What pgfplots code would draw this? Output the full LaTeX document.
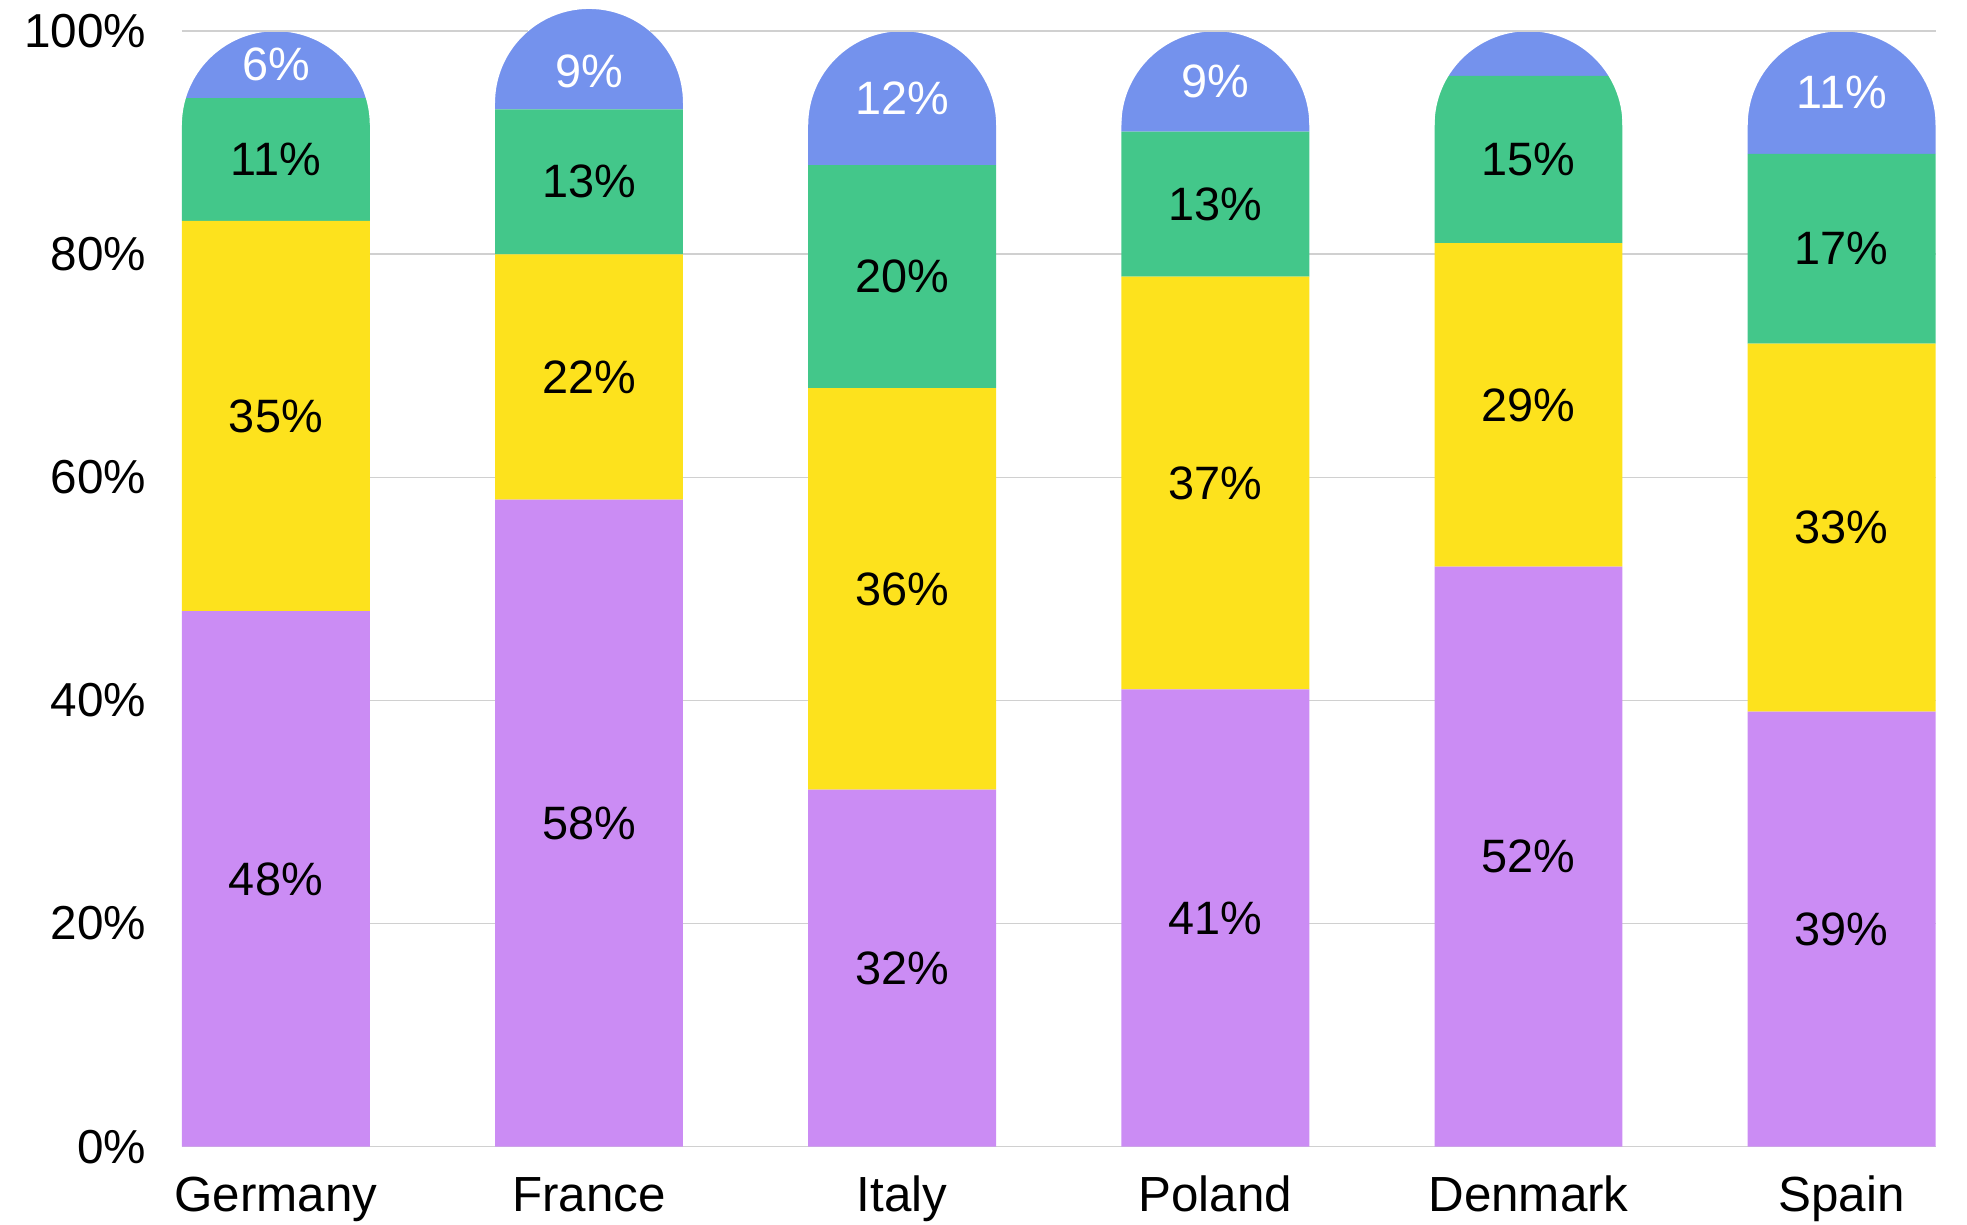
\documentclass[border=0pt]{standalone}
\usepackage{pgfplots}
\pgfplotsset{compat=1.18}
\usepackage{pgfplotstable}
\usepackage{fontspec}
\setmainfont{Liberation Sans}
\definecolor{cpurple}{HTML}{CB8CF4}
\definecolor{cyellow}{HTML}{FDE21D}
\definecolor{cgreen}{HTML}{43C78A}
\definecolor{cblue}{HTML}{7492ED}
\definecolor{cgrid}{HTML}{D0D0D0}

\pgfplotstableread{
x purple yellow green blue bsh bop
0 48 35 11 6 0 1
1 58 22 13 9 -1.1 1
2 32 36 20 12 0 1
3 41 37 13 9 0 1
4 52 29 15 4 0 0
5 39 33 17 11 0 1
}\data

\newcommand\R{22.47pt}
\newcommand\capmask[1]{%
  \fill[white] ([xshift=-23.1pt,yshift=0.6pt]#1) -- ([xshift=-23.1pt,yshift=-\R]#1) -- ([xshift=-\R,yshift=-\R]#1) arc[start angle=180,end angle=90,radius=\R] -- ([yshift=0.6pt]#1) -- cycle;
  \fill[white] ([xshift=23.1pt,yshift=0.6pt]#1) -- ([xshift=23.1pt,yshift=-\R]#1) -- ([xshift=\R,yshift=-\R]#1) arc[start angle=0,end angle=90,radius=\R] -- ([yshift=0.6pt]#1) -- cycle;}

\pgfplotsset{
  seglabel/.style={
    nodes near coords={\pgfmathprintnumber{\pgfplotspointmeta}\%},
    point meta=explicit,
    every node near coord/.append style={anchor=center, inner sep=0pt, text=black,
      font=\fontsize{11.2}{13}\selectfont},
  },
}

\begin{document}
\begin{tikzpicture}
\useasboundingbox (-43.5pt,-18.6pt) rectangle (426.9pt,274.2pt);
\begin{axis}[
  at={(0,0)}, anchor=south west,
  scale only axis,
  width=419.4pt, height=274.2pt,
  xmin=-0.3, xmax=5.3,
  ymin=0, ymax=102.8,
  ybar stacked,
  bar width=0.6,
  clip=false,
  axis line style={draw=none},
  tick style={draw=none},
  major tick length=0pt,
  ymajorgrids,
  major grid style={draw=cgrid, line width=0.4pt},
  ytick={0,20,40,60,80,100},
  yticklabels={0\%,20\%,40\%,60\%,80\%,100\%},
  xtick={0,1,2,3,4,5},
  xticklabels={Germany,France,Italy,Poland,Denmark,Spain},
  yticklabel style={anchor=east, inner sep=0pt, xshift=-8.4pt, font=\fontsize{11.4}{13}\selectfont},
  xticklabel style={anchor=base, inner sep=0pt, yshift=-15.6pt, font=\fontsize{11.8}{14}\selectfont},
  /pgf/number format/assume math mode=true,
]
\addplot[fill=cpurple, draw=none, seglabel] table[x=x, y=purple, meta=purple] {\data};
\addplot[fill=cyellow, draw=none, seglabel] table[x=x, y=yellow, meta=yellow] {\data};
\addplot[fill=cgreen, draw=none, seglabel] table[x=x, y=green, meta=green] {\data};
\addplot[fill=cblue, draw=none,
  nodes near coords={\pgfmathprintnumber{\pgfplotspointmeta}\%},
  point meta=explicit,
  visualization depends on=\thisrow{bsh}\as\bsh,
  visualization depends on=\thisrow{bop}\as\bop,
  every node near coord/.append style={anchor=center, inner sep=0pt, text=white,
    text opacity=\bop, font=\fontsize{11.2}{13}\selectfont, shift={(axis direction cs:0,\bsh)}},
] table[x=x, y=blue, meta=blue] {\data};
\coordinate (t0) at (axis cs:0,100);
\coordinate (t1) at (axis cs:1,102);
\coordinate (t2) at (axis cs:2,100);
\coordinate (t3) at (axis cs:3,100);
\coordinate (t4) at (axis cs:4,100);
\coordinate (t5) at (axis cs:5,100);
\coordinate (gl) at (axis cs:-0.3,100);
\coordinate (gf) at (axis cs:1,100);
\coordinate (gr) at (axis cs:5.3,100);
\end{axis}
\capmask{t0}
\capmask{t1}
\capmask{t2}
\capmask{t3}
\capmask{t4}
\capmask{t5}
\draw[cgrid, line width=0.4pt] (gl) -- ([xshift=-14.55pt]gf);
\draw[cgrid, line width=0.4pt] ([xshift=14.55pt]gf) -- (gr);
\end{tikzpicture}
\end{document}
